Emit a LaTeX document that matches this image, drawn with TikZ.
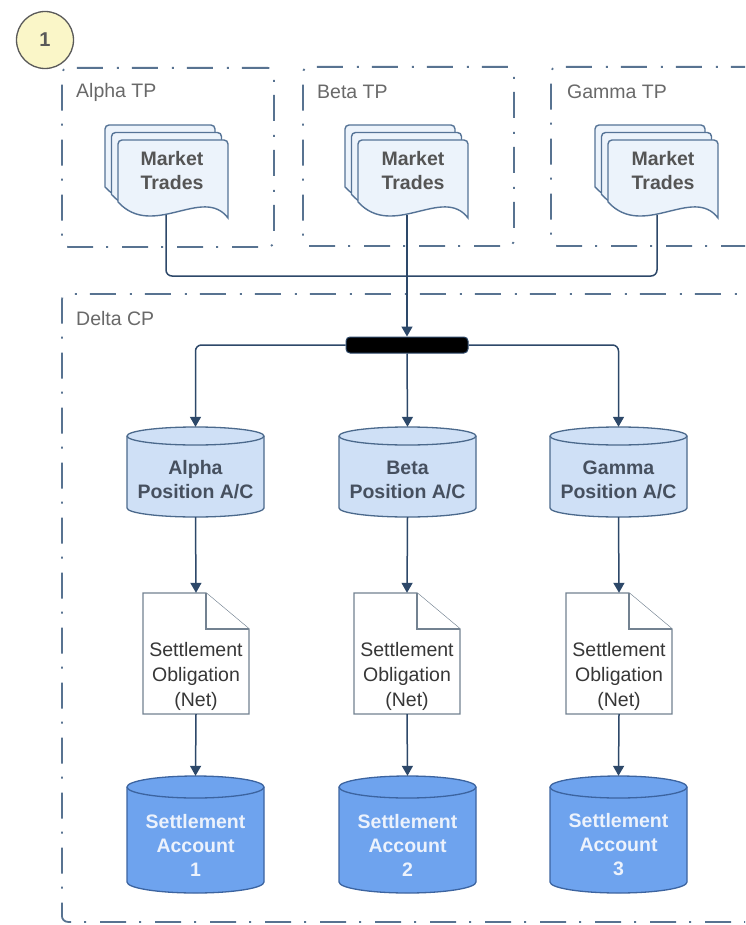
\documentclass[tikz,border=0pt]{standalone}
\usepackage{fontspec}
\setmainfont{Liberation Sans}
\usetikzlibrary{arrows.meta}
\definecolor{boxc}{RGB}{88,115,145}
\definecolor{lblc}{RGB}{105,105,105}
\definecolor{linec}{RGB}{45,72,105}
\definecolor{mtfill}{RGB}{236,243,251}
\definecolor{mtdraw}{RGB}{85,115,150}
\definecolor{mttext}{RGB}{85,85,85}
\definecolor{posfill}{RGB}{207,224,246}
\definecolor{posdraw}{RGB}{75,105,140}
\definecolor{postext}{RGB}{70,80,95}
\definecolor{accfill}{RGB}{110,163,238}
\definecolor{accdraw}{RGB}{60,100,160}
\definecolor{acctext}{RGB}{236,242,252}
\definecolor{obdraw}{RGB}{115,130,145}
\definecolor{obtext}{RGB}{55,55,55}
\definecolor{numfill}{RGB}{250,246,200}

\newcommand\mtsheet[2]{%
 \filldraw[mtsheetst] ({#1},{-(#2)-62}) [rounded corners=4] -- ({#1},{-(#2)}) -- ({#1+110},{-(#2)}) [sharp corners] -- ({#1+110},{-(#2)-78}) .. controls ({#1+85},{-(#2)-45}) and ({#1+35},{-(#2)-100}) .. ({#1},{-(#2)-62}) -- cycle;}
\newcommand\mtstack[2]{\mtsheet{#1-13}{#2-15}\mtsheet{#1-6.5}{#2-7.5}\mtsheet{#1}{#2}}
\newcommand\cylpath[6]{%
 \filldraw[#6] ({#1-#4},{-(#2)-#5}) -- ({#1-#4},{-(#3)+#5}) arc[start angle=180,end angle=360,x radius=#4pt,y radius=#5pt] -- ({#1+#4},{-(#2)-#5}) arc[start angle=0,end angle=180,x radius=#4pt,y radius=#5pt] -- cycle;
 \draw[#6, fill=none] ({#1-#4},{-(#2)-#5}) arc[start angle=180,end angle=360,x radius=#4pt,y radius=#5pt];}
\newcommand\obshape[3]{%
 \filldraw[obst] ({#1-53},{-(#2)}) -- ({#1+10},{-(#2)}) -- ({#1+53},{-(#2)-36}) -- ({#1+53},{-(#3)}) -- ({#1-53},{-(#3)}) -- cycle;
 \draw[obst] ({#1+10},{-(#2)}) -- ({#1+10},{-(#2)-36}) -- ({#1+53},{-(#2)-36});}

\begin{document}
\begin{tikzpicture}[x=1pt,y=1pt,
  tpbox/.style={draw=boxc, line width=1.8pt, rounded corners=6pt, dash pattern=on 26pt off 13pt on 2pt off 14pt, anchor=north west, inner sep=0pt},
  lbl/.style={text=lblc, font=\fontsize{19.5}{23}\selectfont, anchor=west, inner sep=0pt},
  mtsheetst/.style={draw=mtdraw, fill=mtfill, line width=1.4pt},
  obst/.style={draw=obdraw, fill=white, line width=1.2pt},
  posst/.style={draw=posdraw, fill=posfill, line width=1.3pt},
  accst/.style={draw=accdraw, fill=accfill, line width=1.3pt},
  txt/.style={font=\fontsize{19.5}{24}\selectfont, align=center, inner sep=0pt},
  anch/.style={draw=none, inner sep=0pt, rectangle},
  conn/.style={draw=linec, line width=1.5pt},
  arr/.style={conn, -{Triangle[width=11pt,length=10pt]}},
  barst/.style={fill=black, draw=linec, line width=1pt, rounded corners=4pt, minimum width=122pt, minimum height=16pt, inner sep=0pt}
]
\useasboundingbox (0,0) rectangle (745,-925);
\fill[white] (0,0) rectangle (745,-925);
\clip (0,0) rectangle (745,-925);

% number badge
\node[circle, draw=black!65, fill=numfill, line width=1.3pt, minimum size=57pt, inner sep=0pt, font=\bfseries\fontsize{20}{24}\selectfont, text=black!65] (num) at (45,-40) {1};

% containers
\node[tpbox, minimum width=212pt, minimum height=179pt] (alphaTP) at (61,-67) {};
\node[tpbox, minimum width=211pt, minimum height=179pt] (betaTP) at (302,-66) {};
\node[tpbox, minimum width=212pt, minimum height=179pt] (gammaTP) at (550,-66) {};
\node[tpbox, minimum width=720pt, minimum height=628pt] (deltaCP) at (61,-293) {};
\node[lbl] (alphaLbl) at (76,-92) {Alpha TP};
\node[lbl] (betaLbl) at (317,-92) {Beta TP};
\node[lbl] (gammaLbl) at (567,-92) {Gamma TP};
\node[lbl] (deltaLbl) at (76,-319) {Delta CP};

% market trades documents
\mtstack{118}{140}
\mtstack{358}{140}
\mtstack{608}{140}
\node[txt, font=\bfseries\fontsize{19.5}{24}\selectfont, text=mttext] (mtA) at (172,-171) {Market\\Trades};
\node[txt, font=\bfseries\fontsize{19.5}{24}\selectfont, text=mttext] (mtB) at (413,-171) {Market\\Trades};
\node[txt, font=\bfseries\fontsize{19.5}{24}\selectfont, text=mttext] (mtG) at (663,-171) {Market\\Trades};
\coordinate (mtAb) at (166,-215);
\coordinate (mtBb) at (407,-215);
\coordinate (mtGb) at (657,-215);
\coordinate (jn) at (407,-276);

% bar
\node[barst] (bar) at (407,-345) {};

% position cylinders
\cylpath{195.5}{427}{517}{68.5}{9}{posst}
\cylpath{407.5}{427}{517}{68.5}{9}{posst}
\cylpath{618.5}{427}{517}{68.5}{9}{posst}
\node[anch, minimum width=137pt, minimum height=90pt] (posA) at (195.5,-472) {};
\node[anch, minimum width=137pt, minimum height=90pt] (posB) at (407.5,-472) {};
\node[anch, minimum width=137pt, minimum height=90pt] (posG) at (618.5,-472) {};
\node[txt, font=\bfseries\fontsize{19.5}{24}\selectfont, text=postext] (posAt) at (195.5,-480) {Alpha\\Position A/C};
\node[txt, font=\bfseries\fontsize{19.5}{24}\selectfont, text=postext] (posBt) at (407.5,-480) {Beta\\Position A/C};
\node[txt, font=\bfseries\fontsize{19.5}{24}\selectfont, text=postext] (posGt) at (618.5,-480) {Gamma\\Position A/C};

% settlement obligation documents
\obshape{196}{593}{714}
\obshape{407}{593}{714}
\obshape{619}{593}{714}
\node[anch, minimum width=106pt, minimum height=121pt] (obA) at (196,-653.5) {};
\node[anch, minimum width=106pt, minimum height=121pt] (obB) at (407,-653.5) {};
\node[anch, minimum width=106pt, minimum height=121pt] (obG) at (619,-653.5) {};
\node[txt, text=obtext, font=\fontsize{19.5}{25}\selectfont] (obAt) at (196,-676) {Settlement\\Obligation\\(Net)};
\node[txt, text=obtext, font=\fontsize{19.5}{25}\selectfont] (obBt) at (407,-676) {Settlement\\Obligation\\(Net)};
\node[txt, text=obtext, font=\fontsize{19.5}{25}\selectfont] (obGt) at (619,-676) {Settlement\\Obligation\\(Net)};

% settlement account cylinders
\cylpath{195.5}{776}{893}{68.5}{11}{accst}
\cylpath{407.5}{776}{893}{68.5}{11}{accst}
\cylpath{618.5}{776}{893}{68.5}{11}{accst}
\node[anch, minimum width=137pt, minimum height=117pt] (accA) at (195.5,-834.5) {};
\node[anch, minimum width=137pt, minimum height=117pt] (accB) at (407.5,-834.5) {};
\node[anch, minimum width=137pt, minimum height=117pt] (accG) at (618.5,-834.5) {};
\node[txt, font=\bfseries\fontsize{19.5}{24}\selectfont, text=acctext] (accAt) at (195.5,-845) {Settlement\\Account\\1};
\node[txt, font=\bfseries\fontsize{19.5}{24}\selectfont, text=acctext] (accBt) at (407.5,-845) {Settlement\\Account\\2};
\node[txt, font=\bfseries\fontsize{19.5}{24}\selectfont, text=acctext] (accGt) at (618.5,-845) {Settlement\\Account\\3};

% connectors
\draw[conn, rounded corners=6pt] (mtAb) |- (jn);
\draw[conn, rounded corners=6pt] (mtGb) |- (jn);
\draw[arr] (mtBb) -- (bar.north);
\draw[arr, rounded corners=6pt] (bar.west) -| (posA.north);
\draw[arr, rounded corners=6pt] (bar.east) -| (posG.north);
\draw[arr] (bar.south) -- (posB.north);
\draw[arr] (posA.south) -- (obA.north);
\draw[arr] (posB.south) -- (obB.north);
\draw[arr] (posG.south) -- (obG.north);
\draw[arr] (obA.south) -- (accA.north);
\draw[arr] (obB.south) -- (accB.north);
\draw[arr] (obG.south) -- (accG.north);
\end{tikzpicture}
\end{document}
